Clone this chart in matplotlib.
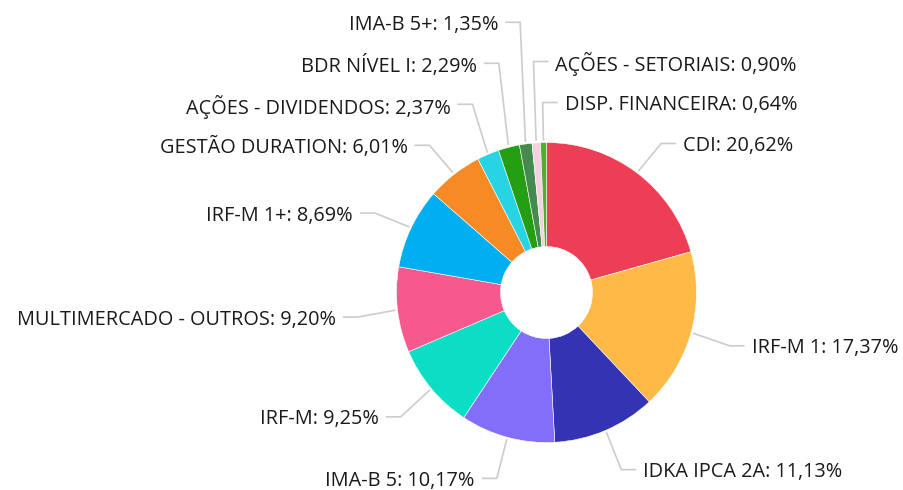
import numpy as np
import matplotlib
matplotlib.use("Agg")
import matplotlib.pyplot as plt

categories = ["CDI", "IRF-M 1", "IDKA IPCA 2A", "IMA-B 5", "IRF-M",
              "MULTIMERCADO - OUTROS", "IRF-M 1+", "GESTÃO DURATION",
              "AÇÕES - DIVIDENDOS", "BDR NÍVEL I", "IMA-B 5+",
              "AÇÕES - SETORIAIS", "DISP. FINANCEIRA"]
values = [20.62, 17.37, 11.13, 10.17, 9.25, 9.20, 8.69, 6.01,
          2.37, 2.29, 1.35, 0.90, 0.64]
colors = ["#EE3E55", "#FFB946", "#3433B3", "#836EF9", "#0CDEC5",
          "#F7588D", "#00AFEF", "#F68B25", "#27D4E3", "#249F14",
          "#468A50", "#F2D2E0", "#4DAF2B"]

W, H = 904, 490
fig = plt.figure(figsize=(W / 100, H / 100), dpi=100)
ax = fig.add_axes([0, 0, 1, 1])

cx, cy = 546.5, H - 292.5
R = 150
R_in = 46

ax.pie(values, colors=colors, startangle=90, counterclock=False,
       center=(cx, cy), radius=R,
       wedgeprops=dict(width=R - R_in, edgecolor="white", linewidth=0.4))
ax.set_xlim(0, W)
ax.set_ylim(0, H)
ax.set_aspect("equal")
ax.axis("off")

# label layout
total = sum(values)
cum = np.cumsum([0] + values[:-1])
mid = [(c + v / 2) / total * 360 for c, v in zip(cum, values)]  # clockwise from top

R_el = 190
ly_off = -2.5
spacing = 41
items = []
for name, v, th in zip(categories, values, mid):
    t = np.deg2rad(th)
    side = "R" if (th < 180 or th > 355) else "L"
    ex = cx + R_el * np.sin(t)
    ey = cy + ly_off + R_el * np.cos(t)
    sx = cx + (R + 2) * np.sin(t)
    sy = cy + (R + 2) * np.cos(t)
    num = f"{v:.2f}".replace(".", ",")
    lab = f"{name}: {num}%"
    items.append(dict(side=side, th=th, ex=ex, ey=ey, sx=sx, sy=sy, lab=lab))

for side in ("R", "L"):
    group = [it for it in items if it["side"] == side]
    if side == "R":
        group.sort(key=lambda it: (it["th"] - 355) % 360)
    else:
        group.sort(key=lambda it: (355 - it["th"]) % 360)
    # group ordered top -> bottom; push upward from the bottom
    for i in range(len(group) - 2, -1, -1):
        if group[i]["ey"] < group[i + 1]["ey"] + spacing:
            group[i]["ey"] = group[i + 1]["ey"] + spacing

line_col = "#CCCCCC"
for it in items:
    d = 1 if it["side"] == "R" else -1
    hx = it["ex"] + d * 15
    ax.plot([it["sx"], it["ex"], hx], [it["sy"], it["ey"], it["ey"]],
            color=line_col, lw=1.2, solid_capstyle="butt", zorder=0)
    ax.text(hx + d * 7, it["ey"], it["lab"], ha="left" if d > 0 else "right",
            va="center_baseline", fontsize=14.3, family="Open Sans",
            color="#1a1a1a")

fig.savefig("out.png", dpi=100)
